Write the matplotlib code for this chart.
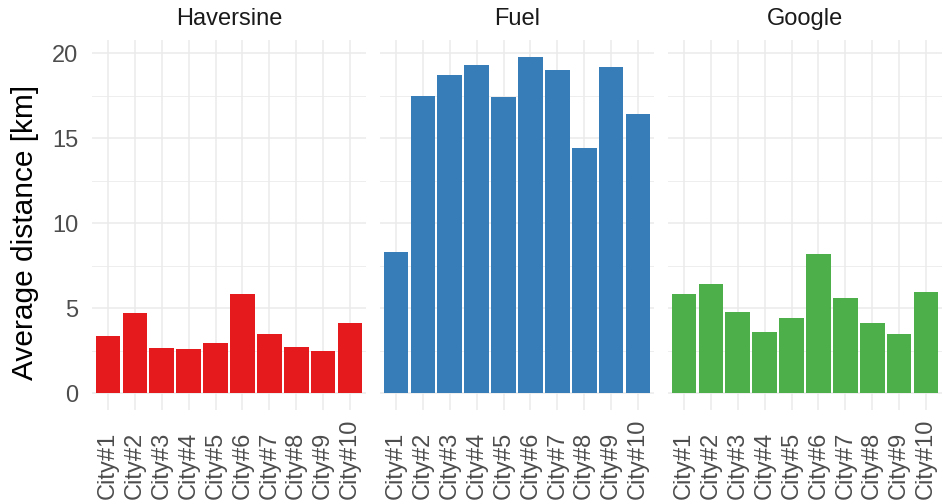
import numpy as np
import matplotlib
matplotlib.use("Agg")
import matplotlib.pyplot as plt

plt.rcParams['font.family'] = ['Liberation Sans', 'DejaVu Sans']

cities = ["City#1", "City#2", "City#3", "City#4", "City#5",
          "City#6", "City#7", "City#8", "City#9", "City#10"]
methods = ["Haversine", "Fuel", "Google"]
haversine = [3.39, 4.74, 2.63, 2.57, 2.98, 5.85, 3.50, 2.69, 2.46, 4.15]
fuel = [8.30, 17.50, 18.70, 19.30, 17.40, 19.80, 19.00, 14.40, 19.20, 16.40]
google = [5.85, 6.43, 4.80, 3.57, 4.44, 8.19, 5.60, 4.15, 3.50, 5.96]
colors = ["#E41A1C", "#377EB8", "#4DAF4A"]

values = [haversine, fuel, google]

fig = plt.figure(figsize=(9.43, 5.04), dpi=100)
lefts = [92 / 943, 380 / 943, 668 / 943]
w = 274 / 943
bottom = 1 - 410 / 504
h = 370 / 504

x = np.arange(1, len(cities) + 1)
for i, (name, vals, col) in enumerate(zip(methods, values, colors)):
    ax = fig.add_axes([lefts[i], bottom, w, h])
    ax.bar(x, vals, width=0.92, color=col, zorder=3)
    ax.set_xlim(0.4, 10.6)
    ax.set_ylim(-0.99, 20.78)
    ax.set_yticks([0, 5, 10, 15, 20])
    ax.set_yticks([2.5, 7.5, 12.5, 17.5], minor=True)
    ax.set_xticks(x)
    # labels bottom-aligned near the figure edge, like ggplot's hjust=0
    ax.set_xticklabels(cities, rotation=90, fontsize=17, color="#4D4D4D", va="bottom")
    ax.tick_params(axis="x", pad=64)
    ax.tick_params(axis="y", pad=10)
    ax.grid(True, which="major", color="#EBEBEB", linewidth=1.1, zorder=0)
    ax.grid(True, which="minor", axis="y", color="#EBEBEB", linewidth=0.6, zorder=0)
    ax.tick_params(which="both", length=0)
    for s in ax.spines.values():
        s.set_visible(False)
    if i == 0:
        ax.set_yticklabels(["0", "5", "10", "15", "20"], fontsize=17, color="#4D4D4D")
    else:
        ax.set_yticklabels([])
    ax.set_title(name, fontsize=17, color="#1A1A1A", pad=10.5)

fig.text(25 / 943, 1 - 232 / 504, "Average distance [km]", rotation=90,
         ha="center", va="center", fontsize=21.5, color="black")

fig.savefig("out.png", dpi=100)
